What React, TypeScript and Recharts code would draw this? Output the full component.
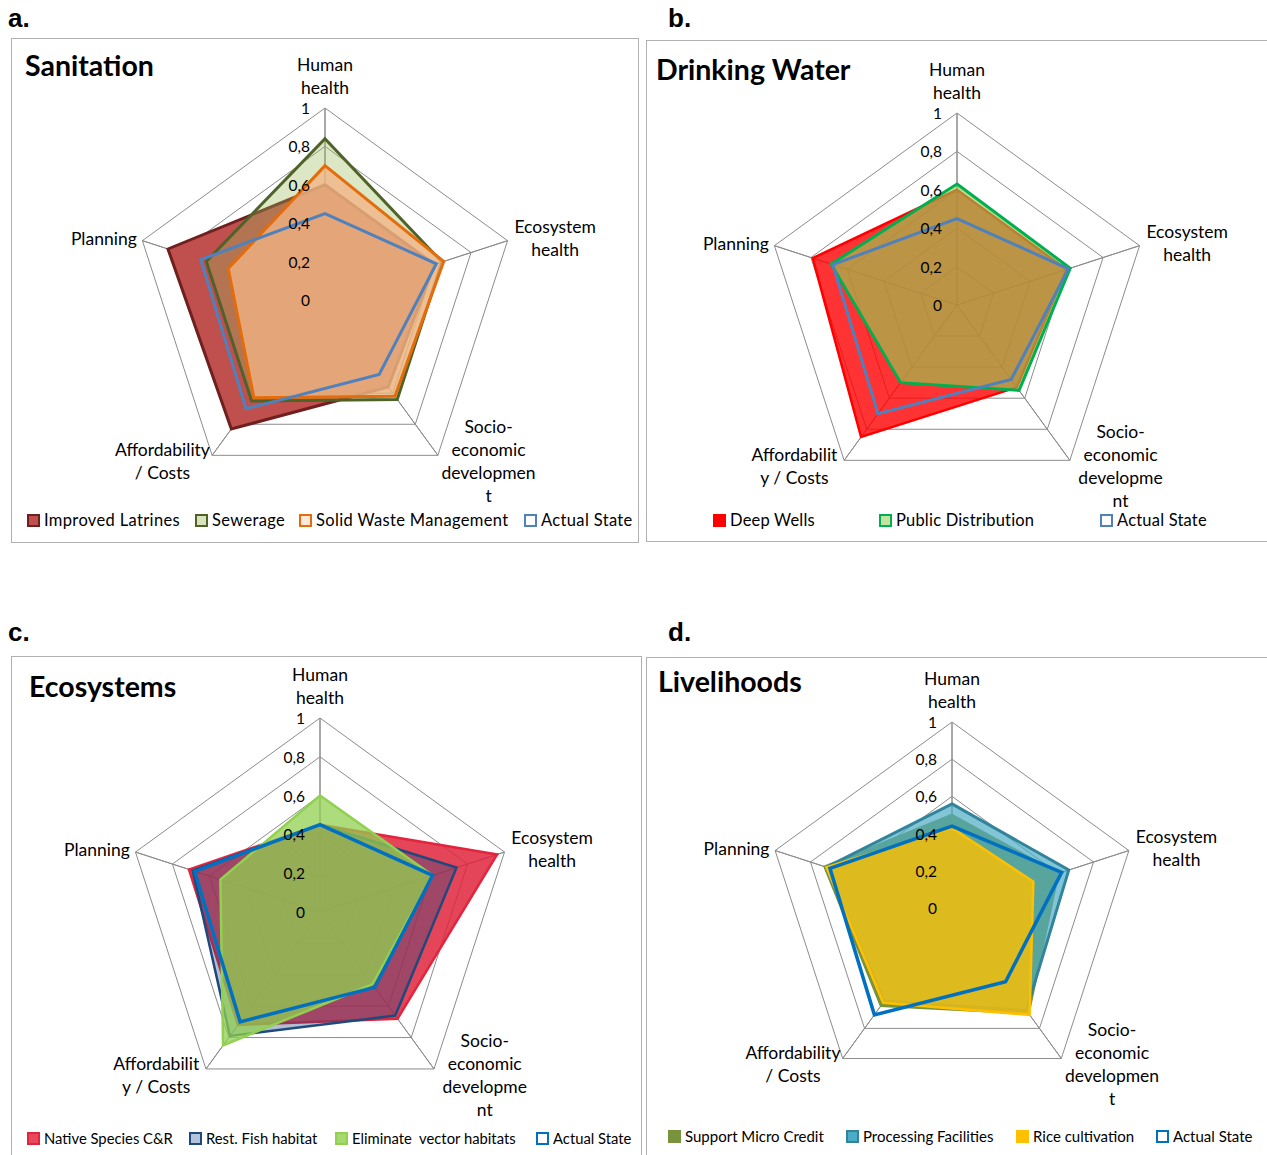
import React from "react";
import { PolarAngleAxis, PolarGrid, PolarRadiusAxis, Radar, RadarChart } from "recharts";

const categories = ["Human health", "Ecosystem health", "Socio-economic development", "Affordability / Costs", "Planning"];
const radiusTicks = [0, 0.2, 0.4, 0.6, 0.8, 1];

// axis label wrapping differs per panel (as in the source)
const labelsA = [["Human", "health"], ["Ecosystem", "health"], ["Socio-", "economic", "developmen", "t"], ["Affordability", "/ Costs"], ["Planning"]];
const labelsB = [["Human", "health"], ["Ecosystem", "health"], ["Socio-", "economic", "developme", "nt"], ["Affordabilit", "y / Costs"], ["Planning"]];
const labelsC = [["Human", "health"], ["Ecosystem", "health"], ["Socio-", "economic", "developme", "nt"], ["Affordabilit", "y / Costs"], ["Planning"]];
const labelsD = [["Human", "health"], ["Ecosystem", "health"], ["Socio-", "economic", "developmen", "t"], ["Affordability", "/ Costs"], ["Planning"]];

// a. Sanitation
const latrines = [0.6, 0.6, 0.56, 0.83, 0.86];
const sewerage = [0.84, 0.64, 0.64, 0.65, 0.65];
const solidWaste = [0.7, 0.65, 0.62, 0.63, 0.53];
const actualA = [0.45, 0.61, 0.48, 0.7, 0.68];

// b. Drinking Water
const deepWells = [0.6, 0.6, 0.53, 0.85, 0.79];
const publicDist = [0.63, 0.62, 0.55, 0.5, 0.69];
const actualB = [0.45, 0.61, 0.48, 0.7, 0.68];

// c. Ecosystems
const nativeSpecies = [0.45, 0.96, 0.68, 0.72, 0.71];
const fishHabitat = [0.45, 0.74, 0.66, 0.79, 0.69];
const vectorHabitats = [0.6, 0.61, 0.46, 0.85, 0.54];
const actualC = [0.45, 0.61, 0.48, 0.7, 0.68];

// d. Livelihoods
const microCredit = [0.5, 0.6, 0.7, 0.65, 0.72];
const processing = [0.56, 0.66, 0.68, 0.62, 0.71];
const rice = [0.43, 0.46, 0.71, 0.63, 0.71];
const actualD = [0.44, 0.62, 0.49, 0.71, 0.69];

type Series = {
  name: string;
  values: number[];
  stroke: string;
  fill: string;
  fillOpacity: number;
  width: number;
  legendFill: string;
  legendStroke: string;
};

type Panel = {
  letter: string;
  title: string;
  box: { left: number; top: number; width: number; height: number; right: boolean; bottom: boolean };
  cx: number;
  cy: number;
  r: number;
  labels: string[][];
  series: Series[];
  legendY: number;
  legendX: number[];
  legendFont: number;
  legendSpacing: number;
  titleY: number;
  titleX: number;
  letterX: number;
  letterY: number;
};

const FONT = "Lato, 'Open Sans', sans-serif";
const LABEL_FONT = 17.5;

const panels: Panel[] = [
  {
    letter: "a.",
    title: "Sanitation",
    box: { left: 11, top: 38, width: 628, height: 505, right: true, bottom: true },
    cx: 325,
    cy: 300,
    r: 192,
    labels: labelsA,
    series: [
      { name: "Improved Latrines", values: latrines, stroke: "#6E1F1E", fill: "#C0504D", fillOpacity: 1, width: 3, legendFill: "#C0504D", legendStroke: "#6E1F1E" },
      { name: "Sewerage", values: sewerage, stroke: "#4F6228", fill: "#9BBB59", fillOpacity: 0.35, width: 3, legendFill: "#D7E4BD", legendStroke: "#4F6228" },
      { name: "Solid Waste Management", values: solidWaste, stroke: "#E46C0A", fill: "#F2B484", fillOpacity: 0.78, width: 3, legendFill: "#FDE9D9", legendStroke: "#E46C0A" },
      { name: "Actual State", values: actualA, stroke: "#4F81BD", fill: "none", fillOpacity: 0, width: 3, legendFill: "#FFFFFF", legendStroke: "#4F81BD" },
    ],
    legendY: 520,
    legendX: [27, 195, 299, 524],
    legendFont: 16.5,
    legendSpacing: 0.35,
    titleY: 65,
    titleX: 25,
    letterX: 8,
    letterY: 18,
  },
  {
    letter: "b.",
    title: "Drinking Water",
    box: { left: 646, top: 40, width: 630, height: 502, right: false, bottom: true },
    cx: 957,
    cy: 305,
    r: 192,
    labels: labelsB,
    series: [
      { name: "Deep Wells", values: deepWells, stroke: "#FF0000", fill: "#FF0000", fillOpacity: 0.8, width: 2.5, legendFill: "#FF0000", legendStroke: "#FF0000" },
      { name: "Public Distribution", values: publicDist, stroke: "#00B050", fill: "#92D050", fillOpacity: 0.62, width: 3, legendFill: "#C3E3A0", legendStroke: "#00B050" },
      { name: "Actual State", values: actualB, stroke: "#4F81BD", fill: "none", fillOpacity: 0, width: 3, legendFill: "#FFFFFF", legendStroke: "#4F81BD" },
    ],
    legendY: 520,
    legendX: [713, 879, 1100],
    legendFont: 16.5,
    legendSpacing: 0.2,
    titleY: 69,
    titleX: 656,
    letterX: 668,
    letterY: 18,
  },
  {
    letter: "c.",
    title: "Ecosystems",
    box: { left: 11, top: 656, width: 631, height: 520, right: true, bottom: false },
    cx: 320,
    cy: 912,
    r: 194,
    labels: labelsC,
    series: [
      { name: "Native Species C&R", values: nativeSpecies, stroke: "#E3243E", fill: "#E0243C", fillOpacity: 0.85, width: 2.5, legendFill: "#E8485C", legendStroke: "#E3243E" },
      { name: "Rest. Fish habitat", values: fishHabitat, stroke: "#1F497D", fill: "#1F497D", fillOpacity: 0.35, width: 2.5, legendFill: "#B4C3DA", legendStroke: "#1F497D" },
      { name: "Eliminate  vector habitats", values: vectorHabitats, stroke: "#92D050", fill: "#92D050", fillOpacity: 0.75, width: 2.5, legendFill: "#A6D86E", legendStroke: "#92D050" },
      { name: "Actual State", values: actualC, stroke: "#0070C0", fill: "none", fillOpacity: 0, width: 3.5, legendFill: "#FFFFFF", legendStroke: "#0070C0" },
    ],
    legendY: 1138,
    legendX: [27, 189, 335, 536],
    legendFont: 14.8,
    legendSpacing: 0,
    titleY: 686,
    titleX: 29,
    letterX: 8,
    letterY: 632,
  },
  {
    letter: "d.",
    title: "Livelihoods",
    box: { left: 646, top: 657, width: 630, height: 520, right: false, bottom: false },
    cx: 952,
    cy: 908,
    r: 186,
    labels: labelsD,
    series: [
      { name: "Support Micro Credit", values: microCredit, stroke: "#77933C", fill: "#77933C", fillOpacity: 1, width: 2.5, legendFill: "#77933C", legendStroke: "#77933C" },
      { name: "Processing Facilities", values: processing, stroke: "#31849B", fill: "#4BACC6", fillOpacity: 0.7, width: 3, legendFill: "#4BACC6", legendStroke: "#31849B" },
      { name: "Rice cultivation", values: rice, stroke: "#FFC000", fill: "#FFC000", fillOpacity: 0.8, width: 2.5, legendFill: "#FFC000", legendStroke: "#FFC000" },
      { name: "Actual State", values: actualD, stroke: "#0070C0", fill: "none", fillOpacity: 0, width: 3.5, legendFill: "#FFFFFF", legendStroke: "#0070C0" },
    ],
    legendY: 1136,
    legendX: [668, 846, 1016, 1156],
    legendFont: 15,
    legendSpacing: 0,
    titleY: 681,
    titleX: 658,
    letterX: 668,
    letterY: 632,
  },
];

// label placement relative to the angle-axis tick anchor
const labelOffsets = [
  { dx: 0, dy: -36, anchor: "middle" },
  { dx: 40, dy: -12, anchor: "middle" },
  { dx: 46, dy: -35, anchor: "middle" },
  { dx: -45, dy: -12, anchor: "middle" },
  { dx: 2, dy: 0, anchor: "end" },
];

function AngleTick(props: any) {
  const { x, y, payload, labels } = props;
  const i = categories.indexOf(payload.value);
  const off = labelOffsets[i];
  const lines: string[] = labels[i];
  return (
    <text x={x + off.dx} y={y + off.dy} textAnchor={off.anchor} fontFamily={FONT} fontSize={LABEL_FONT} fill="#000">
      {lines.map((l, k) => (
        <tspan key={k} x={x + off.dx} y={y + off.dy + k * 23} dominantBaseline="central">
          {l}
        </tspan>
      ))}
    </text>
  );
}

function RadiusTick(props: any) {
  const { x, y, payload } = props;
  return (
    <text x={x - 15} y={y} textAnchor="end" dominantBaseline="central" fontFamily={FONT} fontSize={15.5} fill="#000">
      {String(payload.value).replace(".", ",")}
    </text>
  );
}

function PanelView({ p }: { p: Panel }) {
  const data = categories.map((c, i) => {
    const row: Record<string, any> = { axis: c };
    p.series.forEach((s) => (row[s.name] = s.values[i]));
    return row;
  });
  const b = p.box;
  return (
    <>
      <div style={{ position: "absolute", left: p.letterX, top: p.letterY - 15, fontFamily: "Arial, 'Liberation Sans', sans-serif", fontWeight: 700, fontSize: 26, lineHeight: "30px" }}>
        {p.letter}
      </div>
      <div
        style={{
          position: "absolute",
          left: b.left,
          top: b.top,
          width: b.width,
          height: b.height,
          borderTop: "1.5px solid #B0B0B0",
          borderLeft: "1.5px solid #B0B0B0",
          borderRight: b.right ? "1.5px solid #B0B0B0" : "none",
          borderBottom: b.bottom ? "1.5px solid #B0B0B0" : "none",
          boxSizing: "border-box",
        }}
      />
      <div style={{ position: "absolute", left: p.titleX, top: p.titleY - 18, fontFamily: FONT, fontWeight: 700, fontSize: 28.5, lineHeight: "36px" }}>
        {p.title}
      </div>
      <div style={{ position: "absolute", left: b.left, top: b.top }}>
        <RadarChart
          width={b.width}
          height={b.height}
          cx={p.cx - b.left}
          cy={p.cy - b.top}
          outerRadius={p.r}
          data={data}
          margin={{ top: 0, right: 0, bottom: 0, left: 0 }}
        >
          <PolarGrid gridType="polygon" stroke="#8C8C8C" strokeWidth={1} />
          <PolarAngleAxis
            dataKey="axis"
            tickLine={false}
            axisLine={false}
            tick={(t: any) => <AngleTick {...t} labels={p.labels} />}
          />
          {p.series.map((s) => (
            <Radar
              key={s.name}
              dataKey={s.name}
              stroke={s.stroke}
              strokeWidth={s.width}
              fill={s.fill}
              fillOpacity={s.fillOpacity}
              dot={false}
              isAnimationActive={false}
            />
          ))}
          <PolarGrid gridType="polygon" polarRadius={[]} stroke="#8C8C8C" strokeWidth={1} />
          <PolarRadiusAxis angle={90} domain={[0, 1]} ticks={radiusTicks} tickCount={6} axisLine={false} tickLine={false} tick={(t: any) => <RadiusTick {...t} />} />
        </RadarChart>
      </div>
      {p.series.map((s, i) => (
        <div
          key={s.name}
          style={{
            position: "absolute",
            left: p.legendX[i],
            top: p.legendY - 10,
            height: 20,
            display: "flex",
            alignItems: "center",
            fontFamily: FONT,
            fontSize: p.legendFont,
            letterSpacing: p.legendSpacing,
            whiteSpace: "pre",
          }}
        >
          <span style={{ display: "inline-block", width: 9, height: 9, background: s.legendFill, border: `2px solid ${s.legendStroke}`, marginRight: 4 }} />
          {s.name}
        </div>
      ))}
    </>
  );
}

export default function App() {
  return (
    <div style={{ position: "relative", width: 1267, height: 1155, overflow: "hidden", background: "#fff" }}>
      <style>{"body{margin:0}"}</style>
      {panels.map((p) => (
        <PanelView key={p.letter} p={p} />
      ))}
    </div>
  );
}
